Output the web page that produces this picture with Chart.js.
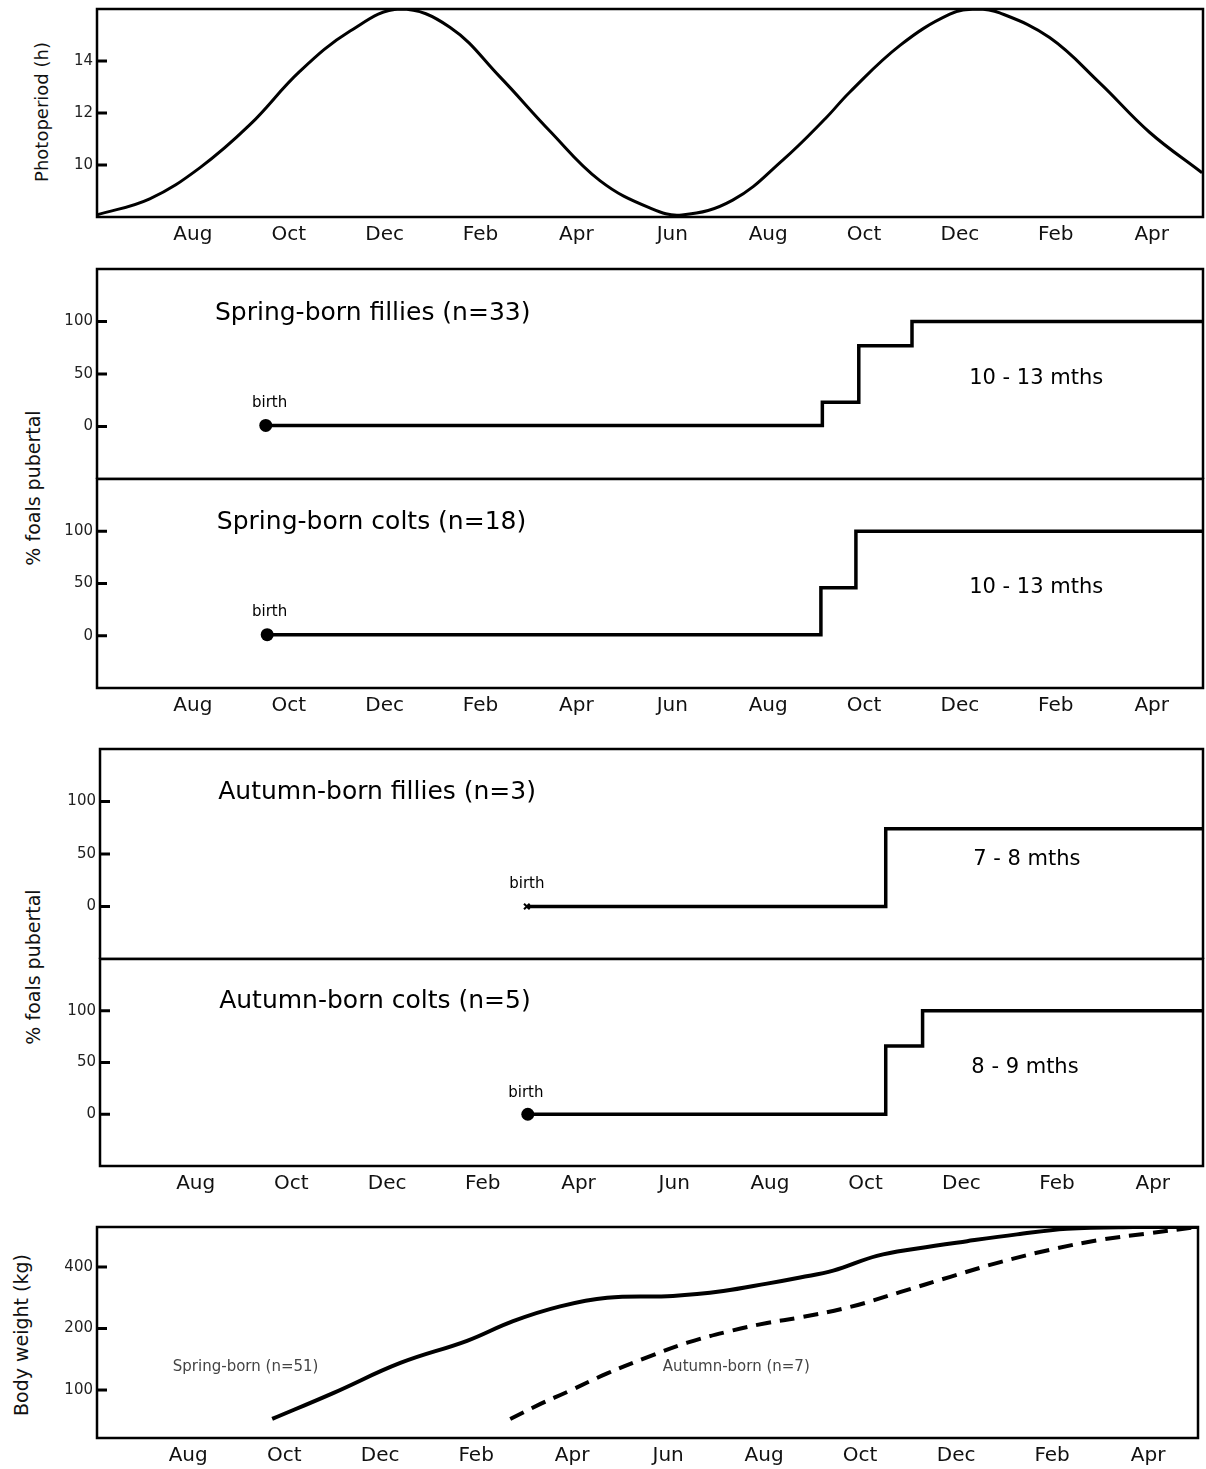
<!DOCTYPE html>
<html>
<head>
<meta charset="utf-8">
<script src="https://cdn.jsdelivr.net/npm/chart.js@4"></script>
<style>
  body { margin: 0; background: #fff; width: 1206px; height: 1469px; position: relative; overflow: hidden; font-family: "DejaVu Sans", sans-serif; }
  canvas { position: absolute; left: 0; }
  .ytitle { position: absolute; transform: translate(-50%, -50%) rotate(-90deg); white-space: nowrap; color: #111; }
</style>
</head>
<body>
<div class="ytitle" style="left:41px;top:112px;font-size:18px">Photoperiod (h)</div>
<div class="ytitle" style="left:33px;top:488px;font-size:19px">% foals pubertal</div>
<div class="ytitle" style="left:33px;top:967px;font-size:19px">% foals pubertal</div>
<div class="ytitle" style="left:21px;top:1335px;font-size:19px">Body weight (kg)</div>

<canvas id="photo" width="1206" height="250" style="top:0px"></canvas>
<canvas id="springF" width="1206" height="219" style="top:260px"></canvas>
<canvas id="springC" width="1206" height="250" style="top:470px"></canvas>
<canvas id="autumnF" width="1206" height="219" style="top:740px"></canvas>
<canvas id="autumnC" width="1206" height="250" style="top:950px"></canvas>
<canvas id="weight" width="1206" height="251" style="top:1218px"></canvas>

<script>
// x axis: months counted from June of the first year
const monthTicks = [2, 4, 6, 8, 10, 12, 14, 16, 18, 20, 22];
const monthLabels = ['Aug', 'Oct', 'Dec', 'Feb', 'Apr', 'Jun', 'Aug', 'Oct', 'Dec', 'Feb', 'Apr'];

// photoperiod (hours of daylight)
const photoTicks = [10, 12, 14];
const photoMonths = [0, 1.1, 2.15, 3.19, 4.23, 5.28, 6.32, 7.36, 8.4, 9.45, 10.49, 11.53, 12.2,
  13.26, 14.31, 15.2, 15.7, 16.75, 17.79, 18.35, 18.83, 19.87, 20.92, 21.96, 23.05];
const photoHours = [8.08, 8.7, 9.9, 11.55, 13.6, 15.15, 16.0, 15.3, 13.4, 11.3, 9.4, 8.35, 8.08,
  8.65, 10.2, 11.8, 12.8, 14.6, 15.8, 16.0, 15.85, 14.9, 13.15, 11.25, 9.7];

// % foals pubertal
const pctTicks = [0, 50, 100];
const springFilliesMonths = [3.52, 15.13, 15.13, 15.89, 15.89, 17.0, 17.0, 23.07];
const springFilliesPct = [1, 1, 23, 23, 77, 77, 100, 100];
const springColtsMonths = [3.55, 15.1, 15.1, 15.83, 15.83, 23.07];
const springColtsPct = [1, 1, 46, 46, 100, 100];
const autumnFilliesMonths = [8.92, 16.42, 16.42, 23.05];
const autumnFilliesPct = [0, 0, 74, 74];
const autumnColtsMonths = [8.94, 16.42, 16.42, 17.19, 17.19, 23.05];
const autumnColtsPct = [0, 0, 66, 66, 100, 100];

// body weight
const weightTicks = [100, 200, 300];
const weightTickLabels = ['100', '200', '400'];
const springWeightMonths = [3.75, 5.02, 6.42, 7.81, 8.77, 9.75, 10.73, 12.1, 13.15, 14.06, 14.75, 15.44,
  16.35, 17.19, 18.23, 19.27, 20.31, 21.69, 23.04];
const springWeightKg = [53, 95, 144, 180, 212, 236, 250, 253, 261, 273, 283, 294,
  318, 330, 342, 353, 362, 365, 365];
const autumnWeightMonths = [8.71, 9.33, 9.9, 10.73, 11.56, 12.4, 13.35, 14.06, 14.75, 15.79, 16.83,
  17.88, 18.92, 19.96, 21.0, 22.04, 23.04];
const autumnWeightKg = [53, 77, 97, 127, 153, 177, 197, 209, 218, 235, 259,
  284, 308, 328, 344, 355, 365];

Chart.defaults.font.family = '"DejaVu Sans", sans-serif';

// box, inward tick marks and text notes placed in data coordinates
const framePlugin = {
  id: 'frame',
  afterDraw(chart, args, opts) {
    const { ctx, chartArea: a, scales } = chart;
    ctx.save();
    ctx.strokeStyle = '#000';
    ctx.lineWidth = 2.5;
    ctx.strokeRect(a.left, a.top, a.right - a.left, a.bottom - a.top);
    ctx.lineWidth = 3;
    scales.y.ticks.forEach(t => {
      const y = scales.y.getPixelForValue(t.value);
      ctx.beginPath();
      ctx.moveTo(a.left, y);
      ctx.lineTo(a.left + 10, y);
      ctx.stroke();
    });
    (opts.notes || []).forEach(n => {
      ctx.font = n.font;
      ctx.fillStyle = n.color || '#000';
      ctx.textAlign = n.align || 'left';
      ctx.textBaseline = 'middle';
      ctx.fillText(n.text, scales.x.getPixelForValue(n.x), scales.y.getPixelForValue(n.y));
    });
    ctx.restore();
  }
};

function xAxis(min, max, axisH) {
  return {
    type: 'linear', min, max, display: axisH > 0,
    grid: { display: false, drawTicks: false }, border: { display: false },
    afterBuildTicks: s => { s.ticks = monthTicks.map(v => ({ value: v })); },
    afterFit: s => { if (axisH > 0) s.height = axisH; s.paddingLeft = 0; s.paddingRight = 0; },
    ticks: {
      autoSkip: false, maxRotation: 0, padding: 6, color: '#111', font: { size: 20 },
      callback: v => monthLabels[monthTicks.indexOf(v)]
    }
  };
}

function yAxis(min, max, tickVals, tickText, left) {
  return {
    type: 'linear', min, max,
    grid: { display: false, drawTicks: false }, border: { display: false },
    afterBuildTicks: s => { s.ticks = tickVals.map(v => ({ value: v })); },
    afterFit: s => { s.width = left; s.paddingTop = 0; s.paddingBottom = 0; },
    ticks: {
      padding: 4, color: '#222', font: { size: 15 },
      callback: v => tickText[tickVals.indexOf(v)]
    }
  };
}

function series(xs, ys, extra) {
  return Object.assign({
    data: xs.map((x, i) => ({ x, y: ys[i] })),
    borderColor: '#000', borderWidth: 3.5, pointRadius: 0, tension: 0, fill: false
  }, extra || {});
}

const birthPoint = {
  pointRadius: c => (c.dataIndex === 0 ? 6.5 : 0),
  pointBackgroundColor: '#000', pointBorderColor: '#000', pointBorderWidth: 0
};

function panel(id, datasets, x, y, rightPad, notes) {
  return new Chart(document.getElementById(id), {
    type: 'line',
    data: { datasets },
    options: {
      responsive: false, animation: false,
      layout: { autoPadding: false, padding: { top: 9, right: rightPad, left: 0, bottom: 0 } },
      plugins: { legend: { display: false }, tooltip: { enabled: false }, frame: { notes } },
      scales: { x, y }
    },
    plugins: [framePlugin]
  });
}

const titleFont = '25px "DejaVu Sans"';
const mthsFont = '21px "DejaVu Sans"';
const birthFont = '15px "DejaVu Sans"';
const pctLabels = pctTicks.map(String);

panel('photo',
  [series(photoMonths, photoHours, { borderWidth: 3, tension: 0.4 })],
  xAxis(0, 23.07, 33), yAxis(8, 16, photoTicks, photoTicks.map(String), 97), 3, []);

panel('springF',
  [series(springFilliesMonths, springFilliesPct, birthPoint)],
  xAxis(0, 23.07, 0), yAxis(-50, 150, pctTicks, pctLabels, 97), 3, [
    { text: 'Spring-born fillies (n=33)', x: 2.46, y: 108, font: titleFont },
    { text: '10 - 13 mths', x: 19.59, y: 46, font: mthsFont, align: 'center' },
    { text: 'birth', x: 3.6, y: 22, font: birthFont, align: 'center' }
  ]);

panel('springC',
  [series(springColtsMonths, springColtsPct, birthPoint)],
  xAxis(0, 23.07, 32), yAxis(-50, 150, pctTicks, pctLabels, 97), 3, [
    { text: 'Spring-born colts (n=18)', x: 2.5, y: 108, font: titleFont },
    { text: '10 - 13 mths', x: 19.59, y: 46.6, font: mthsFont, align: 'center' },
    { text: 'birth', x: 3.6, y: 23, font: birthFont, align: 'center' }
  ]);

panel('autumnF',
  [series(autumnFilliesMonths, autumnFilliesPct, {
    pointStyle: 'crossRot', pointRadius: c => (c.dataIndex === 0 ? 4 : 0),
    pointBorderColor: '#000', pointBorderWidth: 2
  })],
  xAxis(0, 23.05, 0), yAxis(-50, 150, pctTicks, pctLabels, 100), 3, [
    { text: 'Autumn-born fillies (n=3)', x: 2.47, y: 109, font: titleFont },
    { text: '7 - 8 mths', x: 19.37, y: 45, font: mthsFont, align: 'center' },
    { text: 'birth', x: 8.92, y: 21, font: birthFont, align: 'center' }
  ]);

panel('autumnC',
  [series(autumnColtsMonths, autumnColtsPct, birthPoint)],
  xAxis(0, 23.05, 34), yAxis(-50, 150, pctTicks, pctLabels, 100), 3, [
    { text: 'Autumn-born colts (n=5)', x: 2.49, y: 109, font: titleFont },
    { text: '8 - 9 mths', x: 19.33, y: 44.7, font: mthsFont, align: 'center' },
    { text: 'birth', x: 8.9, y: 20, font: birthFont, align: 'center' }
  ]);

panel('weight',
  [
    series(springWeightMonths, springWeightKg, { borderWidth: 4, tension: 0.4 }),
    series(autumnWeightMonths, autumnWeightKg, { borderWidth: 4, borderDash: [15, 9], tension: 0.4 })
  ],
  xAxis(0.1, 23.04, 31), yAxis(22, 365, weightTicks, weightTickLabels, 97), 8, [
    { text: 'Spring-born (n=51)', x: 1.68, y: 137, font: '15px "DejaVu Sans"', color: '#444' },
    { text: 'Autumn-born (n=7)', x: 11.89, y: 137, font: '15px "DejaVu Sans"', color: '#444' }
  ]);
</script>
</body>
</html>
